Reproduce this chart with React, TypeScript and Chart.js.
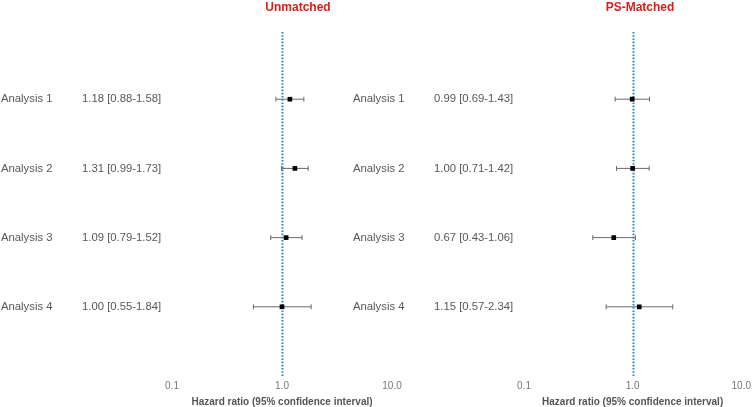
import React, { useEffect, useRef } from "react";
import { Chart, registerables } from "chart.js";

Chart.register(...registerables);

const rowLabels = ["Analysis 1", "Analysis 2", "Analysis 3", "Analysis 4"];
const rowPositions = [1, 2, 3, 4];

const unmatchedHR = [1.18, 1.31, 1.09, 1.0];
const unmatchedLo = [0.88, 0.99, 0.79, 0.55];
const unmatchedHi = [1.58, 1.73, 1.52, 1.84];

const matchedHR = [0.99, 1.0, 0.67, 1.15];
const matchedLo = [0.69, 0.71, 0.43, 0.57];
const matchedHi = [1.43, 1.42, 1.06, 2.34];

const xTickValues = [0.1, 1, 10];
const referenceValue = 1;
const axisTitle = "Hazard ratio (95% confidence interval)";

const FONT = "'Liberation Sans', Arial, sans-serif";

type PanelProps = {
  title: string;
  hr: number[];
  lo: number[];
  hi: number[];
  left: number;
  width: number;
  padLeft: number;
  padRight: number;
  labelX: number;
  textX: number;
  titleX: number;
};

function Panel(p: PanelProps) {
  const ref = useRef<HTMLCanvasElement | null>(null);
  useEffect(() => {
    if (!ref.current) return;
    const overlay = {
      id: "forestOverlay",
      beforeDatasetsDraw(chart: any) {
        const ctx = chart.ctx;
        const xs = chart.scales.x;
        const ys = chart.scales.y;
        const area = chart.chartArea;
        // reference line
        ctx.save();
        const rx = Math.round(xs.getPixelForValue(referenceValue)) + 0.5;
        ctx.strokeStyle = "#2b86c5";
        ctx.lineWidth = 2;
        ctx.setLineDash([1.6, 1.6]);
        ctx.beginPath();
        ctx.moveTo(rx, area.top + 2);
        ctx.lineTo(rx, area.bottom);
        ctx.stroke();
        ctx.restore();
        // whiskers
        ctx.save();
        ctx.strokeStyle = "#6a6a6a";
        ctx.lineWidth = 1;
        for (let i = 0; i < p.hr.length; i++) {
          const y = ys.getPixelForValue(rowPositions[i]);
          const x1 = xs.getPixelForValue(p.lo[i]);
          const x2 = xs.getPixelForValue(p.hi[i]);
          ctx.beginPath();
          ctx.moveTo(x1, y);
          ctx.lineTo(x2, y);
          ctx.moveTo(x1, y - 2.5);
          ctx.lineTo(x1, y + 2.5);
          ctx.moveTo(x2, y - 2.5);
          ctx.lineTo(x2, y + 2.5);
          ctx.stroke();
        }
        ctx.restore();
      },
      afterDraw(chart: any) {
        const ctx = chart.ctx;
        const ys = chart.scales.y;
        ctx.save();
        ctx.textBaseline = "middle";
        ctx.textAlign = "left";
        ctx.fillStyle = "#585858";
        ctx.font = `11.3px ${FONT}`;
        for (let i = 0; i < rowLabels.length; i++) {
          const y = ys.getPixelForValue(rowPositions[i]);
          ctx.fillText(rowLabels[i], p.labelX, y);
          const txt = `${p.hr[i].toFixed(2)} [${p.lo[i].toFixed(2)}-${p.hi[i].toFixed(2)}]`;
          ctx.fillText(txt, p.textX, y);
        }
        ctx.textAlign = "center";
        ctx.fillStyle = "#e01b1b";
        ctx.font = `bold 12px ${FONT}`;
        ctx.fillText(p.title, p.titleX, 8);
        ctx.restore();
      },
    };
    const chart = new Chart(ref.current, {
      type: "scatter",
      data: {
        datasets: [
          {
            data: p.hr.map((v, i) => ({ x: v, y: rowPositions[i] })),
            pointStyle: "rect",
            pointRadius: 3.3,
            pointBackgroundColor: "#000000",
            pointBorderColor: "#000000",
            pointBorderWidth: 0,
            showLine: false,
          },
        ],
      },
      options: {
        animation: false,
        responsive: false,
        events: [],
        layout: {
          padding: { left: p.padLeft, right: p.padRight, top: 30, bottom: -1 },
        },
        plugins: {
          legend: { display: false },
          tooltip: { enabled: false },
          title: { display: false },
        },
        scales: {
          x: {
            type: "logarithmic",
            min: 0.1,
            max: 10,
            afterBuildTicks(scale: any) {
              scale.ticks = xTickValues.map((v) => ({ value: v }));
            },
            grid: { display: false, drawTicks: false },
            border: { display: false },
            ticks: {
              padding: 4,
              color: "#777777",
              font: { family: FONT, size: 10 },
              maxRotation: 0,
              autoSkip: false,
              callback: (v: any) => Number(v).toFixed(1),
            },
            title: {
              display: true,
              text: axisTitle,
              color: "#555555",
              font: { family: FONT, size: 10, weight: "bold" },
              padding: { top: 0, bottom: 0 },
            },
          },
          y: {
            type: "linear",
            min: 0,
            max: 5,
            reverse: true,
            display: false,
          },
        },
      },
      plugins: [overlay],
    } as any);
    return () => chart.destroy();
  }, []);
  return (
    <canvas
      ref={ref}
      width={p.width}
      height={407}
      style={{ position: "absolute", left: p.left, top: 0, width: p.width, height: 407 }}
    />
  );
}

export default function App() {
  return (
    <div
      style={{
        position: "fixed",
        left: 0,
        top: 0,
        width: 755,
        height: 407,
        background: "#ffffff",
        overflow: "hidden",
      }}
    >
      <Panel
        title="Unmatched"
        hr={unmatchedHR}
        lo={unmatchedLo}
        hi={unmatchedHi}
        left={0}
        width={410}
        padLeft={172}
        padRight={18}
        labelX={1}
        textX={82}
        titleX={298}
      />
      <Panel
        title="PS-Matched"
        hr={matchedHR}
        lo={matchedLo}
        hi={matchedHi}
        left={345}
        width={410}
        padLeft={179}
        padRight={12}
        labelX={8}
        textX={89}
        titleX={295}
      />
    </div>
  );
}
